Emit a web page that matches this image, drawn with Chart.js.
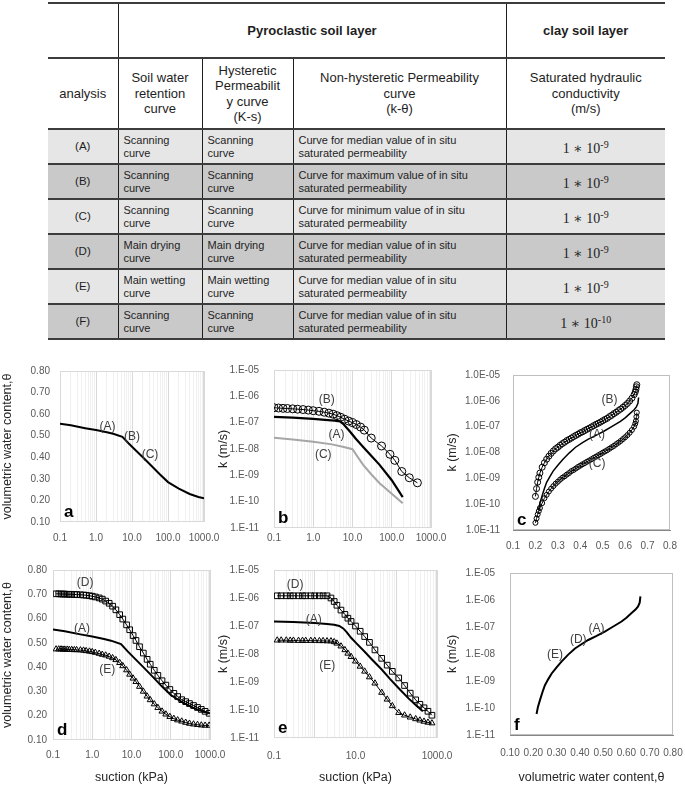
<!DOCTYPE html>
<html>
<head>
<meta charset="utf-8">
<script src="https://cdn.jsdelivr.net/npm/chart.js@4.4.1/dist/chart.umd.min.js"></script>
<style>
body { margin: 0; background: #fff; width: 685px; height: 785px; position: relative; overflow: hidden; font-family: "Liberation Sans", Arial, sans-serif; }
canvas { position: absolute; }
#tbl { position: absolute; left: 48px; top: 2px; width: 617px; border-collapse: collapse; table-layout: fixed; color: #1e1e1e; }
#tbl td { padding: 0; vertical-align: middle; }
#tbl tr { border-bottom: 2px solid #3c3c3c; }
#tbl tr.h1 { border-top: 2px solid #3c3c3c; height: 55px; }
#tbl tr.h2 { height: 71px; }
#tbl tr.body { height: 35px; }
#tbl td.vr { border-right: 1px solid #1e1e1e; }
#tbl tr.h1 td { text-align: center; font-weight: bold; font-size: 13px; }
#tbl tr.h2 td { text-align: center; font-size: 13px; line-height: 15.5px; }
#tbl tr.body td { font-family: "Liberation Sans Narrow", "Arial Narrow", "Liberation Sans", sans-serif; font-size: 11px; line-height: 13px; padding-left: 5px; }
#tbl tr.body td.id { text-align: center; padding-left: 0; font-family: "Liberation Sans", Arial, sans-serif; font-size: 11.5px; }
#tbl tr.body td.ks { text-align: center; padding-left: 0; font-family: "Liberation Serif", "DejaVu Serif", serif; font-size: 14px; }
#tbl tr.body td.ks sup { font-size: 10px; vertical-align: 5px; }
#tbl tr.light { background: #e6e6e6; }
#tbl tr.dark { background: #c9c9c9; }
</style>
</head>
<body>
<table id="tbl">
  <colgroup><col style="width:70px"><col style="width:84px"><col style="width:91px"><col style="width:213px"><col style="width:159px"></colgroup>
  <tr class="h1"><td class="vr"></td><td class="vr" colspan="3">Pyroclastic soil layer</td><td>clay soil layer</td></tr>
  <tr class="h2"><td class="vr">analysis</td><td class="vr">Soil water<br>retention<br>curve</td><td class="vr">Hysteretic<br>Permeabilit<br>y curve<br>(K-s)</td><td class="vr">Non-hysteretic Permeability<br>curve<br>(k-θ)</td><td>Saturated hydraulic<br>conductivity<br>(m/s)</td></tr>
  <tbody id="rows"></tbody>
</table>

<canvas id="ca"></canvas>
<canvas id="cb"></canvas>
<canvas id="cc"></canvas>
<canvas id="cd"></canvas>
<canvas id="ce"></canvas>
<canvas id="cf"></canvas>

<script>
// ---- table content ----
var analysisIds = ['(A)', '(B)', '(C)', '(D)', '(E)', '(F)'];
var swrcCurve = ['Scanning<br>curve', 'Scanning<br>curve', 'Scanning<br>curve', 'Main drying<br>curve', 'Main wetting<br>curve', 'Scanning<br>curve'];
var hystCurve = ['Scanning<br>curve', 'Scanning<br>curve', 'Scanning<br>curve', 'Main drying<br>curve', 'Main wetting<br>curve', 'Scanning<br>curve'];
var permCurve = ['median', 'maximum', 'minimum', 'median', 'median', 'median'];
var clayExp = ['-9', '-9', '-9', '-9', '-9', '-10'];

// ---- tick values and labels ----
var suctionDecades = [0.1, 1, 10, 100, 1000];
var suctionLabels = ['0.1', '1.0', '10.0', '100.0', '1000.0'];
var suctionDecadesE = [0.1, 10, 1000];
var suctionLabelsE = ['0.1', '10.0', '1000.0'];
var kDecades = [1e-11, 1e-10, 1e-9, 1e-8, 1e-7, 1e-6, 1e-5];
var kLabels = ['1.E-11', '1.E-10', '1.E-09', '1.E-08', '1.E-07', '1.E-06', '1.E-05'];
var kLabelsC = ['1.0E-11', '1.0E-10', '1.0E-09', '1.0E-08', '1.0E-07', '1.0E-06', '1.0E-05'];

// ---- a / d : soil water retention, curve (A) ----
var suctionA = [0.1, 0.2, 0.5, 1, 2, 3, 5.4, 8, 12, 20, 35, 60, 100, 200, 400, 700, 1000];
var thetaA = [0.555, 0.548, 0.535, 0.526, 0.516, 0.509, 0.495, 0.465, 0.436, 0.400, 0.360, 0.320, 0.285, 0.255, 0.230, 0.216, 0.210];

// ---- b : k-s curves ----
var suctionKB = [0.1, 0.13, 0.17, 0.22, 0.3, 0.4, 0.55, 0.75, 1, 1.4, 1.9, 2.5, 3.2, 4, 5, 6.3, 8, 10, 12.5, 16, 20, 30, 55, 90, 120, 180, 280, 450];
var kB = [3.7e-7, 3.6e-7, 3.5e-7, 3.45e-7, 3.35e-7, 3.25e-7, 3.15e-7, 3.0e-7, 2.85e-7, 2.7e-7, 2.5e-7, 2.3e-7, 2.1e-7, 1.85e-7, 1.6e-7, 1.35e-7, 1.15e-7, 1.0e-7, 8.5e-8, 6.8e-8, 5.2e-8, 2.6e-8, 1.3e-8, 6.3e-9, 3.7e-9, 1.4e-9, 8.1e-10, 5.2e-10];
var suctionKA = [0.1, 0.3, 1, 2, 3.5, 4.8, 6, 8.6, 12, 18.7, 30, 49, 100, 190];
var kA = [1.65e-7, 1.55e-7, 1.4e-7, 1.28e-7, 1.2e-7, 1.12e-7, 8.5e-8, 4.6e-8, 2.5e-8, 1.2e-8, 5.5e-9, 2.5e-9, 6.5e-10, 1.5e-10];
var suctionKC = [0.1, 0.3, 1, 3, 6, 10, 13, 18.7, 30, 49, 100, 190];
var kC = [2.7e-8, 2.3e-8, 1.9e-8, 1.5e-8, 1.2e-8, 9.8e-9, 5.5e-9, 2.5e-9, 1.1e-9, 5e-10, 2e-10, 8.7e-11];

// ---- c / f : k-theta curves ----
var thetaBC = [0.2, 0.205, 0.21, 0.215, 0.22, 0.23, 0.24, 0.25, 0.26, 0.27, 0.28, 0.29, 0.30, 0.31, 0.32, 0.33, 0.34, 0.35, 0.36, 0.37, 0.38, 0.39, 0.40, 0.41, 0.42, 0.43, 0.44, 0.45, 0.46, 0.47, 0.48, 0.49, 0.50, 0.51, 0.52, 0.53, 0.54, 0.55, 0.56, 0.57, 0.58, 0.59, 0.60, 0.61, 0.62, 0.63, 0.64, 0.645, 0.648, 0.65, 0.652];
var kThetaB = [2.0e-10, 4.0e-10, 7.1e-10, 1.1e-9, 1.6e-9, 2.7e-9, 4.0e-9, 5.5e-9, 7.2e-9, 9.3e-9, 1.15e-8, 1.4e-8, 1.6e-8, 1.9e-8, 2.2e-8, 2.5e-8, 2.9e-8, 3.2e-8, 3.6e-8, 4.1e-8, 4.6e-8, 5.1e-8, 5.8e-8, 6.3e-8, 7.1e-8, 7.9e-8, 8.7e-8, 9.8e-8, 1.1e-7, 1.23e-7, 1.35e-7, 1.5e-7, 1.7e-7, 1.9e-7, 2.1e-7, 2.45e-7, 2.75e-7, 3.2e-7, 3.6e-7, 4.2e-7, 4.8e-7, 5.6e-7, 6.6e-7, 7.9e-7, 9.8e-7, 1.26e-6, 1.74e-6, 2.2e-6, 2.75e-6, 3.5e-6, 4.2e-6];
var kThetaC = [1.9e-11, 2.8e-11, 4.0e-11, 5.4e-11, 7.1e-11, 1.1e-10, 1.7e-10, 2.3e-10, 3.1e-10, 4.0e-10, 5.0e-10, 6.2e-10, 7.4e-10, 8.9e-10, 1.05e-9, 1.2e-9, 1.4e-9, 1.6e-9, 1.9e-9, 2.1e-9, 2.4e-9, 2.75e-9, 3.1e-9, 3.5e-9, 3.9e-9, 4.4e-9, 4.9e-9, 5.5e-9, 6.2e-9, 6.9e-9, 7.8e-9, 8.7e-9, 9.8e-9, 1.1e-8, 1.23e-8, 1.4e-8, 1.6e-8, 1.8e-8, 2.1e-8, 2.4e-8, 2.8e-8, 3.3e-8, 3.9e-8, 4.7e-8, 5.8e-8, 7.4e-8, 1.0e-7, 1.3e-7, 1.65e-7, 2.4e-7, 3.5e-7];
var thetaKA = [0.214, 0.22, 0.229, 0.24, 0.25, 0.265, 0.279, 0.3, 0.321, 0.35, 0.379, 0.41, 0.436, 0.47, 0.507, 0.54, 0.579, 0.60, 0.621, 0.64, 0.65, 0.657, 0.66];
var kThetaA = [6e-11, 1.1e-10, 2e-10, 4e-10, 7e-10, 1.2e-9, 1.9e-9, 3.2e-9, 5.2e-9, 9.5e-9, 1.6e-8, 2.4e-8, 3.3e-8, 4.6e-8, 6.8e-8, 1.0e-7, 1.6e-7, 2.2e-7, 3.2e-7, 4.5e-7, 5.8e-7, 8e-7, 1.35e-6];

// ---- d : main drying / wetting retention ----
var suctionD = [0.12, 0.14, 0.16, 0.18, 0.2, 0.23, 0.26, 0.3, 0.35, 0.4, 0.5, 0.6, 0.7, 0.85, 1.0, 1.2, 1.5, 1.8, 2.2, 2.7, 3.3, 4, 5, 6, 7.5, 9, 11, 13, 16, 20, 25, 30, 38, 47, 60, 75, 95, 120, 150, 190, 240, 300, 380, 480, 600, 750, 950];
var thetaD = [0.702, 0.702, 0.701, 0.701, 0.701, 0.700, 0.700, 0.700, 0.699, 0.699, 0.698, 0.697, 0.696, 0.694, 0.692, 0.689, 0.685, 0.680, 0.672, 0.663, 0.651, 0.636, 0.616, 0.598, 0.574, 0.554, 0.530, 0.510, 0.484, 0.458, 0.432, 0.412, 0.387, 0.366, 0.344, 0.326, 0.308, 0.292, 0.279, 0.266, 0.258, 0.250, 0.242, 0.234, 0.226, 0.218, 0.210];
var thetaE = [0.474, 0.474, 0.474, 0.473, 0.473, 0.473, 0.472, 0.472, 0.471, 0.471, 0.470, 0.469, 0.467, 0.465, 0.463, 0.460, 0.456, 0.452, 0.449, 0.444, 0.438, 0.430, 0.418, 0.405, 0.388, 0.370, 0.354, 0.340, 0.320, 0.300, 0.280, 0.265, 0.248, 0.233, 0.218, 0.206, 0.196, 0.188, 0.182, 0.177, 0.172, 0.168, 0.165, 0.163, 0.161, 0.160, 0.160];

// ---- e : main drying / wetting k-s ----
var suctionE = [0.12, 0.15, 0.2, 0.25, 0.3, 0.4, 0.5, 0.6, 0.8, 1.0, 1.3, 1.6, 2.0, 2.5, 3.0, 3.5, 4.4, 5.5, 6.5, 7.8, 10, 13, 16.8, 22, 30, 44, 60, 80, 115, 160, 220, 300, 380, 480, 600, 750];
var kD = [1.2e-6, 1.2e-6, 1.2e-6, 1.2e-6, 1.2e-6, 1.2e-6, 1.2e-6, 1.2e-6, 1.2e-6, 1.2e-6, 1.2e-6, 1.2e-6, 1.2e-6, 1.0e-6, 7.5e-7, 5.5e-7, 3.7e-7, 2.6e-7, 1.9e-7, 1.45e-7, 1.0e-7, 6.5e-8, 4.2e-8, 2.6e-8, 1.4e-8, 7e-9, 4e-9, 2.4e-9, 1.4e-9, 7.5e-10, 4e-10, 2.3e-10, 1.6e-10, 1.2e-10, 9e-11, 6.5e-11];
var kE = [3.1e-8, 3.1e-8, 3.1e-8, 3.05e-8, 3.05e-8, 3.0e-8, 3.0e-8, 3.0e-8, 3.0e-8, 3.0e-8, 2.95e-8, 2.95e-8, 2.9e-8, 2.9e-8, 2.7e-8, 2.4e-8, 1.9e-8, 1.4e-8, 1.05e-8, 8e-9, 5.5e-9, 3.6e-9, 2.4e-9, 1.5e-9, 9e-10, 4.2e-10, 2.4e-10, 1.4e-10, 8e-11, 6.5e-11, 5.5e-11, 4.8e-11, 4.3e-11, 3.9e-11, 3.6e-11, 3.4e-11];
var suctionEA = [0.1, 0.3, 1, 2, 3, 4, 5, 6, 7.8, 10, 16.8, 25, 44, 70, 115, 200, 300, 450];
var kEA = [1.45e-7, 1.38e-7, 1.28e-7, 1.18e-7, 1.1e-7, 1.0e-7, 8.2e-8, 6.2e-8, 3.8e-8, 2.6e-8, 1.2e-8, 6.5e-9, 2.8e-9, 1.3e-9, 6e-10, 2.6e-10, 1.5e-10, 9e-11];

// ---- curve labels: text, x, y ----
var notesA = [['(A)', 2.1, 0.541], ['(B)', 10, 0.495], ['(C)', 31.6, 0.413]];
var notesB = [['(B)', 2.2, 7.2e-7], ['(A)', 3.9, 3.4e-8], ['(C)', 1.8, 6.3e-9]];
var notesC = [['(B)', 0.53, 1.07e-6], ['(A)', 0.475, 4.8e-8], ['(C)', 0.475, 3.8e-9]];
var notesD = [['(D)', 0.66, 0.748], ['(A)', 0.55, 0.56], ['(E)', 2.4, 0.388]];
var notesE = [['(D)', 0.33, 2.9e-6], ['(A)', 0.94, 1.65e-7], ['(E)', 2.03, 3.8e-9]];
var notesF = [['(E)', 0.293, 9.3e-9], ['(D)', 0.393, 3.3e-8], ['(A)', 0.471, 9e-8]];

// build table rows
var rowsHtml = '';
analysisIds.forEach(function (id, i) {
    rowsHtml += '<tr class="body ' + (i % 2 ? 'dark' : 'light') + '">' +
        '<td class="vr id">' + id + '</td>' +
        '<td class="vr">' + swrcCurve[i] + '</td>' +
        '<td class="vr">' + hystCurve[i] + '</td>' +
        '<td class="vr">Curve for ' + permCurve[i] + ' value of in situ<br>saturated permeability</td>' +
        '<td class="ks">1 ∗ 10<sup>' + clayExp[i] + '</sup></td></tr>';
});
document.getElementById('rows').innerHTML = rowsHtml;

// ---- chart helpers ----
var TICK_COLOR = '#595959';
var TITLE_COLOR = '#262626';
var FONT = '"Liberation Sans", Arial, sans-serif';
Chart.defaults.font.family = FONT;

function pts(xs, ys) {
    return xs.map(function (x, i) { return { x: x, y: ys[i] }; });
}

// gridlines at 1..9 x every decade
function logGrid(decades) {
    var out = [];
    for (var i = 0; i < decades.length - 1; i++) {
        for (var m = 1; m < 10; m++) out.push(decades[i] * m);
    }
    out.push(decades[decades.length - 1]);
    return out;
}

function fixSize(prop, size) {
    return function (s) {
        s[prop] = size;
        s.paddingLeft = 0; s.paddingRight = 0; s.paddingTop = 0; s.paddingBottom = 0;
    };
}

function suctionAxis(h, pad, labVals, labTxt, title) {
    return {
        type: 'logarithmic', min: 0.1, max: 1000,
        afterBuildTicks: function (s) { s.ticks = logGrid(suctionDecades).map(function (v) { return { value: v }; }); },
        afterFit: fixSize('height', h),
        ticks: {
            autoSkip: false, maxRotation: 0, padding: pad, color: TICK_COLOR, font: { size: 10 },
            callback: function (v) { var i = labVals.indexOf(v); return i < 0 ? '' : labTxt[i]; }
        },
        grid: {
            drawTicks: false,
            color: function (c) { return suctionDecades.indexOf(c.tick.value) >= 0 ? '#d9d9d9' : '#f0f0f0'; }
        },
        border: { display: false },
        title: { display: !!title, text: title || '', color: TITLE_COLOR, font: { size: 12.5 }, padding: 0 }
    };
}

function kAxis(w, pad, labTxt, title) {
    return {
        type: 'logarithmic', min: 1e-11, max: 1e-5,
        afterBuildTicks: function (s) { s.ticks = kDecades.map(function (v) { return { value: v }; }); },
        afterFit: fixSize('width', w),
        ticks: {
            autoSkip: false, padding: pad, color: TICK_COLOR, font: { size: 10 },
            callback: function (v) { var i = kDecades.indexOf(v); return i < 0 ? '' : labTxt[i]; }
        },
        grid: { display: false, drawTicks: false },
        border: { display: false },
        title: { display: true, text: title, color: TITLE_COLOR, font: { size: 12.5 }, padding: 0 }
    };
}

function linAxis(size, prop, pad, min, max, digits, title, axisLine) {
    return {
        type: 'linear', min: min, max: max,
        afterFit: fixSize(prop, size),
        ticks: {
            autoSkip: false, maxRotation: 0, stepSize: 0.1, padding: pad, color: TICK_COLOR, font: { size: 10 },
            callback: function (v) { return v.toFixed(digits); }
        },
        grid: { display: false, drawTicks: false },
        border: { display: !!axisLine, color: axisLine || '#000', width: 1 },
        title: { display: !!title, text: title || '', color: TITLE_COLOR, font: { size: 12.5 }, padding: 0 }
    };
}

var decorPlugin = {
    id: 'decor',
    beforeDatasetsDraw: function (chart, args, o) {
        var a = chart.chartArea, c = chart.ctx;
        c.save();
        c.strokeStyle = o.box;
        c.lineWidth = 1;
        c.strokeRect(Math.round(a.left) + 0.5, Math.round(a.top) + 0.5, Math.round(a.right - a.left) - 1, Math.round(a.bottom - a.top) - 1);
        c.restore();
    },
    afterDatasetsDraw: function (chart, args, o) {
        var a = chart.chartArea, c = chart.ctx, xs = chart.scales.x, ys = chart.scales.y;
        c.save();
        c.font = '12px ' + FONT;
        c.fillStyle = '#404040';
        c.textAlign = 'center';
        c.textBaseline = 'middle';
        o.notes.forEach(function (n) {
            c.fillText(n[0], xs.getPixelForValue(n[1]), ys.getPixelForValue(n[2]));
        });
        c.font = 'bold 17px ' + FONT;
        c.fillStyle = '#000';
        c.textAlign = 'left';
        c.textBaseline = 'alphabetic';
        c.fillText(o.letter, a.left + 4, a.bottom - 5);
        c.restore();
    }
};

function lineSet(data, color, width) {
    return { data: data, showLine: true, borderColor: color, borderWidth: width, pointRadius: 0, tension: 0 };
}

function markSet(data, style, radius) {
    return {
        data: data, showLine: true, borderColor: '#000', borderWidth: 1, tension: 0,
        pointStyle: style, pointRadius: radius, pointBorderColor: '#000', pointBorderWidth: 1,
        pointBackgroundColor: 'rgba(255,255,255,0)'
    };
}

function makeChart(id, box, datasets, scales, notes, letter, boxColor) {
    var cv = document.getElementById(id);
    cv.width = box.w; cv.height = box.h;
    cv.style.left = box.left + 'px'; cv.style.top = box.top + 'px';
    return new Chart(cv.getContext('2d'), {
        type: 'scatter',
        data: { datasets: datasets },
        options: {
            responsive: false, animation: false, devicePixelRatio: 1,
            layout: { padding: { top: box.padT, right: box.padR, left: 0, bottom: 0 } },
            plugins: { legend: { display: false }, tooltip: { enabled: false }, decor: { notes: notes, letter: letter, box: boxColor } },
            scales: scales
        },
        plugins: [decorPlugin]
    });
}

// ---- layout (canvas boxes) ----
var boxA = { left: 0, top: 360, w: 225, h: 190, padT: 11, padR: 21 };
var boxB = { left: 216, top: 360, w: 244, h: 192, padT: 10, padR: 29 };
var boxC = { left: 445, top: 360, w: 240, h: 195, padT: 15, padR: 15 };
var boxD = { left: 0, top: 560, w: 230, h: 225, padT: 10, padR: 20 };
var boxE = { left: 216, top: 560, w: 244, h: 225, padT: 10, padR: 23 };
var boxF = { left: 445, top: 560, w: 240, h: 225, padT: 13, padR: 12 };

// a
makeChart('ca', boxA,
    [lineSet(pts(suctionA, thetaA), '#000', 2)],
    {
        x: suctionAxis(28, 10, suctionDecades, suctionLabels),
        y: linAxis(60, 'width', 10, 0.1, 0.8, 2, 'volumetric water content,θ')
    }, notesA, 'a', '#d9d9d9');

// b
makeChart('cb', boxB,
    [lineSet(pts(suctionKC, kC), '#a6a6a6', 2),
     lineSet(pts(suctionKA, kA), '#000', 2.2),
     markSet(pts(suctionKB, kB), 'circle', 4)],
    {
        x: suctionAxis(24, 4, suctionDecades, suctionLabels),
        y: kAxis(58, 15, kLabels, 'k (m/s)')
    }, notesB, 'b', '#d9d9d9');

// c
makeChart('cc', boxC,
    [lineSet(pts(thetaKA, kThetaA), '#000', 1.5),
     markSet(pts(thetaBC, kThetaB), 'circle', 3),
     markSet(pts(thetaBC, kThetaC), 'circle', 2.5)],
    {
        x: linAxis(25, 'height', 10, 0.1, 0.8, 1, null, '#868686'),
        y: kAxis(68, 13, kLabelsC, 'k (m/s)')
    }, notesC, 'c', '#bfbfbf');

// d
makeChart('cd', boxD,
    [lineSet(pts(suctionA, thetaA), '#000', 2),
     markSet(pts(suctionD, thetaD), 'rect', 4),
     markSet(pts(suctionD, thetaE), 'triangle', 3.5)],
    {
        x: suctionAxis(45, 9, suctionDecades, suctionLabels, 'suction (kPa)'),
        y: linAxis(53, 'width', 6, 0.1, 0.8, 2, 'volumetric water content,θ')
    }, notesD, 'd', '#d9d9d9');

// e
makeChart('ce', boxE,
    [lineSet(pts(suctionEA, kEA), '#000', 2),
     markSet(pts(suctionE, kD), 'rect', 4),
     markSet(pts(suctionE, kE), 'triangle', 3.5)],
    {
        x: suctionAxis(47, 12, suctionDecadesE, suctionLabelsE, 'suction (kPa)'),
        y: kAxis(58, 15, kLabels, 'k (m/s)')
    }, notesE, 'e', '#d9d9d9');

// f
makeChart('cf', boxF,
    [lineSet(pts(thetaKA, kThetaA), '#000', 2)],
    {
        x: linAxis(50, 'height', 12, 0.1, 0.8, 2, 'volumetric water content,θ', '#868686'),
        y: kAxis(65, 15, kLabels, 'k (m/s)')
    }, notesF, 'f', '#bfbfbf');
</script>
</body>
</html>
